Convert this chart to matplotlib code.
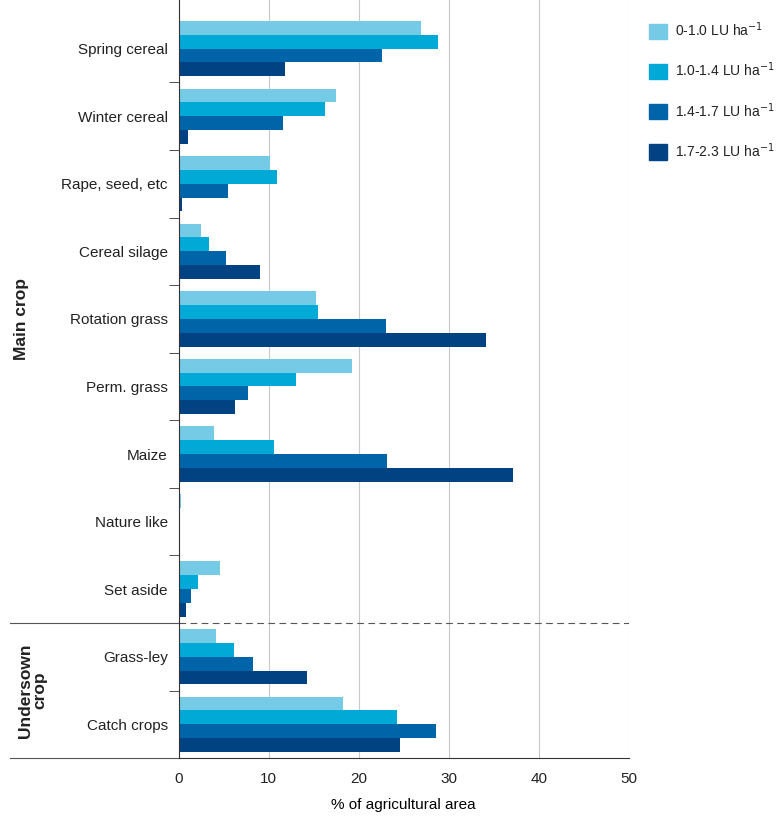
import numpy as np
import matplotlib.pyplot as plt
from matplotlib.lines import Line2D
from matplotlib.patches import Patch

crops = ["Spring cereal", "Winter cereal", "Rape, seed, etc", "Cereal silage",
         "Rotation grass", "Perm. grass", "Maize", "Nature like", "Set aside",
         "Grass-ley", "Catch crops"]
lu_0_10 = [26.9, 17.5, 10.1, 2.5, 15.2, 19.3, 3.9, 0.2, 4.6, 4.1, 18.2]
lu_10_14 = [28.8, 16.2, 10.9, 3.4, 15.5, 13.0, 10.6, 0.1, 2.1, 6.1, 24.3]
lu_14_17 = [22.6, 11.6, 5.5, 5.2, 23.0, 7.7, 23.1, 0.1, 1.4, 8.2, 28.6]
lu_17_23 = [11.8, 1.0, 0.3, 9.0, 34.1, 6.2, 37.1, 0.1, 0.8, 14.2, 24.6]
labels = ["0-1.0 LU ha$^{\\mathsf{-1}}$", "1.0-1.4 LU ha$^{\\mathsf{-1}}$",
          "1.4-1.7 LU ha$^{\\mathsf{-1}}$", "1.7-2.3 LU ha$^{\\mathsf{-1}}$"]
colors = ["#75cbe5", "#00a9d6", "#0064a8", "#004282"]

plt.rcParams['font.family'] = ['Liberation Sans', 'DejaVu Sans']
plt.rcParams['text.color'] = '#222222'
plt.rcParams['xtick.labelcolor'] = '#222222'
plt.rcParams['ytick.labelcolor'] = '#222222'
fig = plt.figure(figsize=(7.81, 8.16), dpi=100)
ax = fig.add_axes([0.229, 0.071, 0.576, 0.929])

y = np.arange(len(crops))
h = 0.205
for i, (vals, c) in enumerate(zip([lu_0_10, lu_10_14, lu_14_17, lu_17_23], colors)):
    ax.barh(y - 1.5 * h + i * h, vals, height=h, color=c, zorder=2)

ax.set_ylim(len(crops) - 0.5, -0.72)
ax.set_xlim(0, 50)
ax.set_xticks(range(0, 51, 10))
ax.set_yticks(y)
ax.set_yticklabels(crops, fontsize=11)
ax.set_yticks(np.arange(0.5, len(crops) - 1, 1), minor=True)
ax.tick_params(axis='y', which='major', length=0, pad=8)
ax.tick_params(axis='y', which='minor', length=7, color='#333333')
ax.tick_params(axis='x', length=0, labelsize=11, pad=10)
ax.grid(axis='x', color='#c8c8c8', linewidth=0.8, zorder=0)
for s in ['top', 'right']:
    ax.spines[s].set_visible(False)
ax.spines['left'].set_color('#333333')
ax.spines['bottom'].set_color('#333333')
ax.set_xlabel("% of agricultural area", fontsize=11, labelpad=9)

ax.axhline(8.5, color='#555555', linestyle=(0, (6, 4)), linewidth=0.8)
for yy in [8.5, len(crops) - 0.5]:
    ax.add_line(Line2D([-0.375, 0], [yy, yy], transform=ax.get_yaxis_transform(),
                       color='#555555', linewidth=0.8, clip_on=False))

ax.text(-0.35, 4.0, "Main crop", transform=ax.get_yaxis_transform(), rotation=90,
        ha='center', va='center', fontsize=12.5, fontweight='bold')
ax.text(-0.325, 9.5, "Undersown\ncrop", transform=ax.get_yaxis_transform(), rotation=90,
        ha='center', va='center', fontsize=12.5, fontweight='bold', linespacing=1.0)

handles = [Patch(color=c) for c in colors]
fig.legend(handles, labels, loc='upper left', bbox_to_anchor=(0.815, 0.99),
           frameon=False, fontsize=10, handlelength=1.3, handleheight=1.3,
           labelspacing=1.55, handletextpad=0.6)

fig.savefig("out.png", dpi=100)
